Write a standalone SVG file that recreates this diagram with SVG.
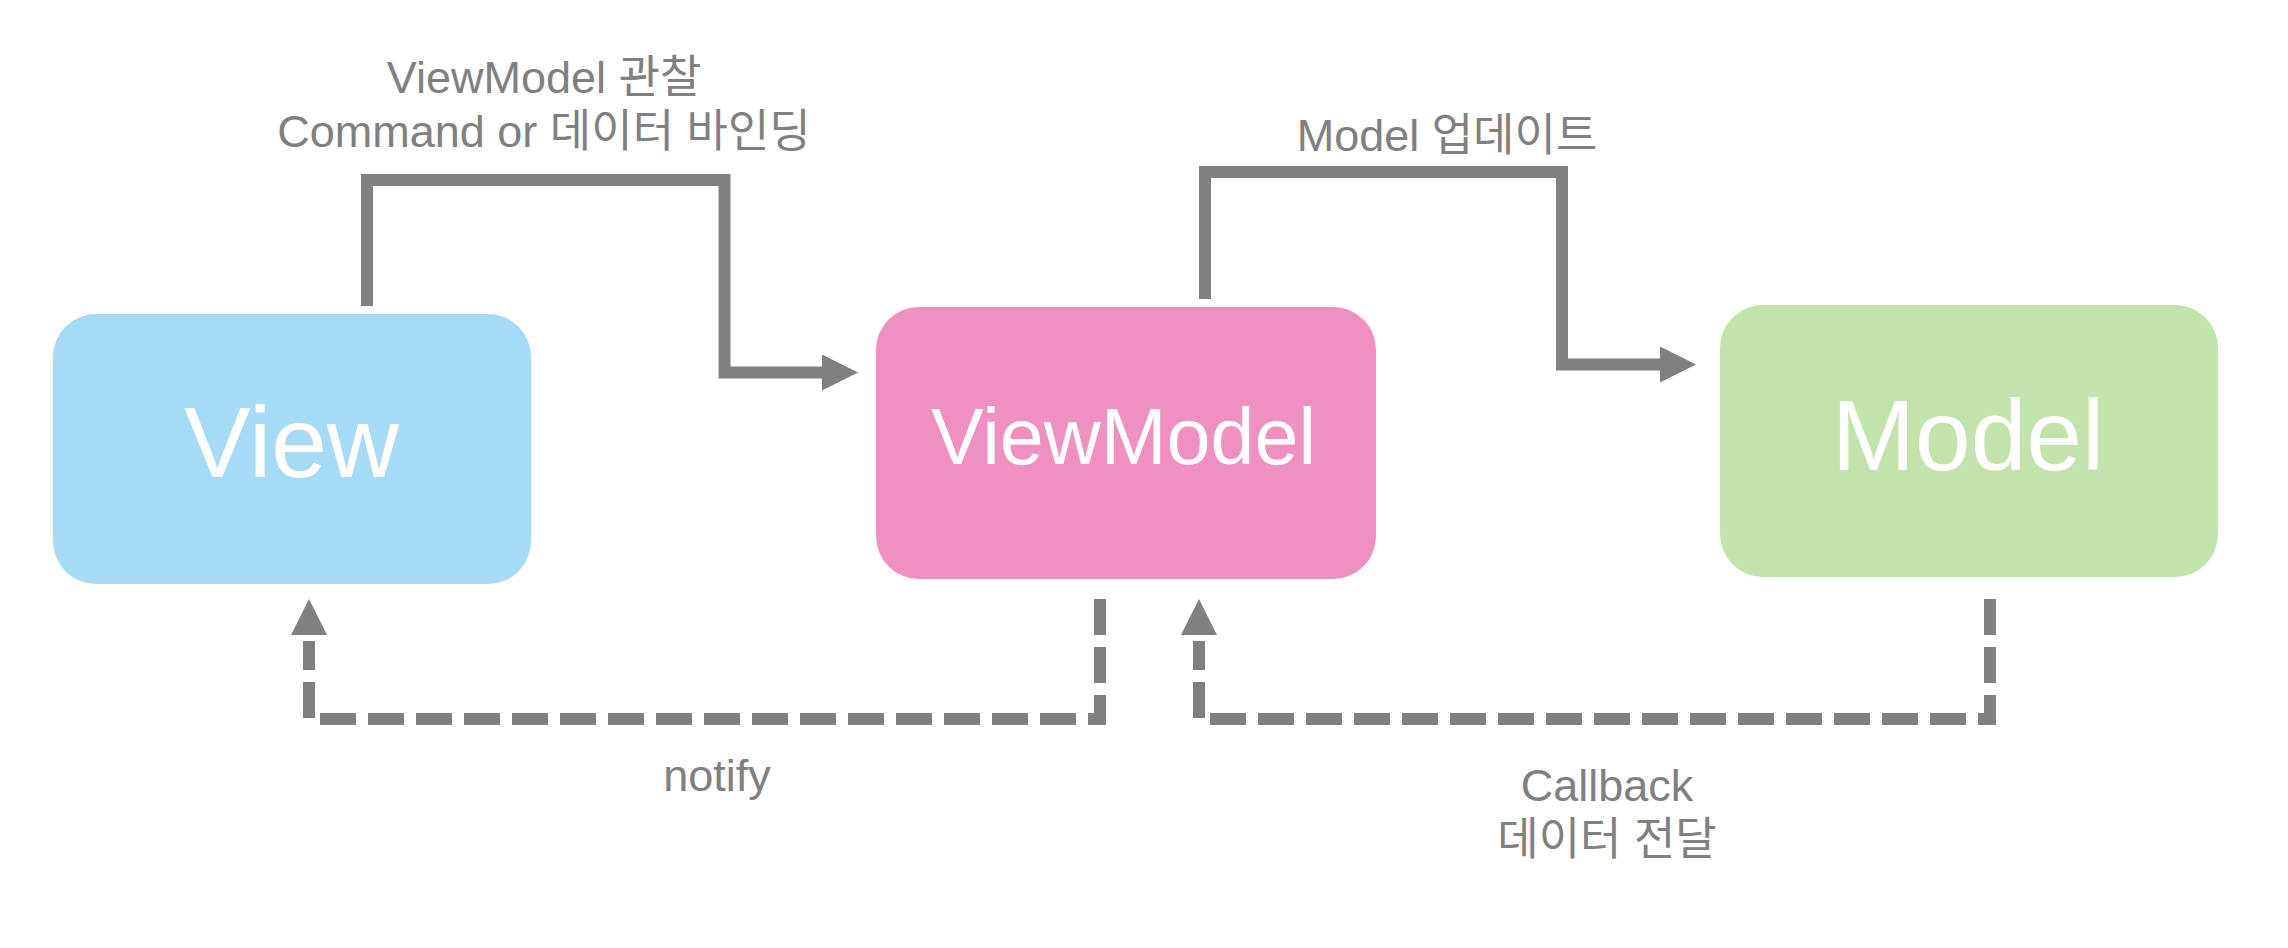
<svg xmlns="http://www.w3.org/2000/svg" width="2288" height="948" viewBox="0 0 2288 948">
<style>
.lbl{font-family:"Liberation Sans","Noto Sans CJK KR",sans-serif;font-size:45px;fill:#808080;text-anchor:middle}
.ntx{font-family:"Liberation Sans","Noto Sans CJK KR",sans-serif;fill:#ffffff;text-anchor:middle}
.solid{fill:none;stroke:#808080;stroke-width:12;stroke-linejoin:miter}
.dash{fill:none;stroke:#808080;stroke-width:12;stroke-dasharray:36 12;stroke-linejoin:miter}
</style>
<defs>
<marker id="arr" markerUnits="userSpaceOnUse" markerWidth="36" markerHeight="36" viewBox="0 0 36 36" refX="0" refY="18" orient="auto"><path d="M0,0 L36,18 L0,36 z" fill="#808080"/></marker>
<marker id="arrd" markerUnits="userSpaceOnUse" markerWidth="36" markerHeight="36" viewBox="0 0 36 36" refX="-6" refY="18" orient="auto"><path d="M0,0 L36,18 L0,36 z" fill="#808080"/></marker>
</defs>
<rect width="2288" height="948" fill="#ffffff"/>
<g id="node-view">
<rect x="53" y="314" width="478" height="270" rx="43" fill="#A6DBF5"/>
<text class="ntx" x="291.5" y="477" font-size="100">View</text>
</g>
<g id="node-viewmodel">
<rect x="876" y="307" width="500" height="272" rx="43" fill="#F090C0"/>
<text class="ntx" x="1123.5" y="464" font-size="79">ViewModel</text>
</g>
<g id="node-model">
<rect x="1720" y="305" width="498" height="272" rx="43" fill="#C1E4AA"/>
<text class="ntx" x="1968" y="469.5" font-size="100">Model</text>
</g>
<g id="connectors">
<path class="solid" d="M367,306 V180 H724.5 V372.5 H822" marker-end="url(#arr)"/>
<path class="solid" d="M1205,299 V172 H1562 V364.5 H1660" marker-end="url(#arr)"/>
<path class="dash" d="M1100,599 V719 H309 V641" marker-end="url(#arrd)"/>
<path class="dash" d="M1990,599 V719 H1199 V641" marker-end="url(#arrd)"/>
<text class="lbl" x="544" y="93">ViewModel 관찰</text>
<text class="lbl" x="544" y="147">Command or 데이터 바인딩</text>
<text class="lbl" x="1447" y="151">Model 업데이트</text>
<text class="lbl" x="717" y="791">notify</text>
<text class="lbl" x="1607" y="801">Callback</text>
<text class="lbl" x="1607" y="855">데이터 전달</text>
</g>
</svg>
